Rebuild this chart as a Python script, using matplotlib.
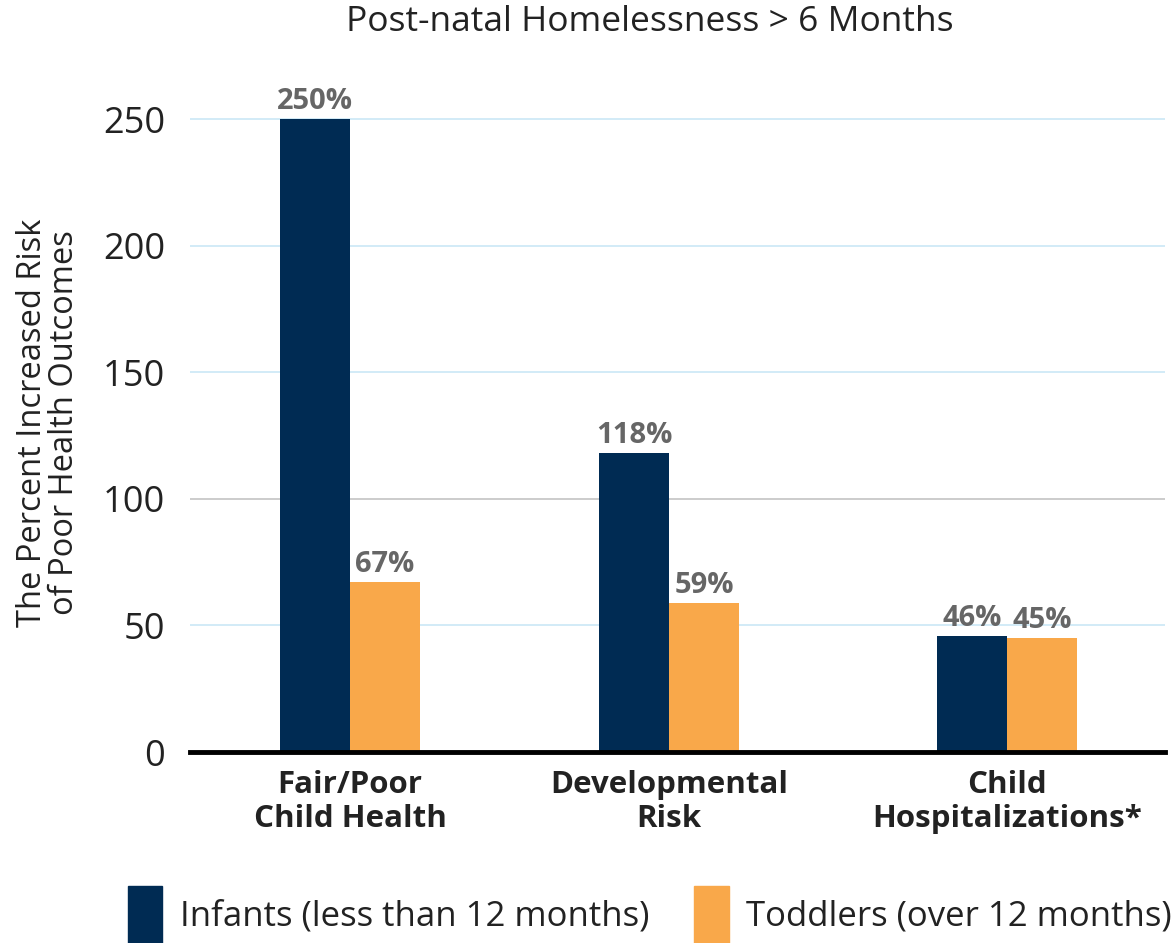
import numpy as np
import matplotlib.pyplot as plt
from matplotlib.patches import Patch

plt.rcParams['font.family'] = ['Open Sans', 'DejaVu Sans']

categories = ['Fair/Poor\nChild Health', 'Developmental\nRisk', 'Child\nHospitalizations*']
infants = [250, 118, 46]
toddlers = [67, 59, 45]
series_names = ['Infants (less than 12 months)', 'Toddlers (over 12 months)']
yticks = [0, 50, 100, 150, 200, 250]

navy = '#002b53'
orange = '#f9a84a'

fig = plt.figure(figsize=(11.71, 9.43), dpi=100)
ax = fig.add_axes([190 / 1171, 191 / 943, 975 / 1171, 658 / 943])

x = np.array([0, 0.971, 2])  # group centres, middle one sits a bit left
w = 0.213
b1 = ax.bar(x - w / 2, infants, w, color=navy, zorder=3)
b2 = ax.bar(x + w / 2, toddlers, w, color=orange, zorder=3)

for bars, vals in ((b1, infants), (b2, toddlers)):
    for r, v in zip(bars, vals):
        ax.text(r.get_x() + r.get_width() / 2, v + 1.2, f'{v}%', ha='center', va='bottom',
                fontsize=21, fontweight='bold', color='#666666')

ax.set_xlim(-0.487, 2.481)
ax.set_ylim(0, 260)
ax.set_yticks(yticks)
ax.tick_params(axis='y', length=0, labelsize=26, pad=18, labelcolor='#222222')
ax.set_xticks(x)
ax.set_xticklabels(categories, fontsize=22.5, fontweight='bold', color='#222222', linespacing=1.15)
ax.tick_params(axis='x', length=0, pad=13)

for t in yticks[1:]:
    ax.axhline(t, color='#c8c8c8' if t == 100 else '#cfe9f7', lw=1.3, zorder=1)

for s in ['top', 'right', 'left']:
    ax.spines[s].set_visible(False)
ax.spines['bottom'].set_linewidth(3.5)
ax.spines['bottom'].set_color('black')
ax.spines['bottom'].set_zorder(4)

ax.set_ylabel('The Percent Increased Risk\nof Poor Health Outcomes', fontsize=23.5, color='#222222',
              linespacing=0.95, labelpad=16)
fig.text(0.555, 1 - 22 / 943, 'Post-natal Homelessness > 6 Months', ha='center', va='center',
         fontsize=25.5, color='#222222')

handles = [Patch(color=navy), Patch(color=orange)]
fig.legend(handles, series_names, loc='lower center', bbox_to_anchor=(0.555, -0.034), ncol=2,
           frameon=False, fontsize=25, handlelength=1.0, handleheight=2.2, columnspacing=1.3,
           handletextpad=0.5, labelcolor='#222222')

fig.savefig('out.png', dpi=100)
